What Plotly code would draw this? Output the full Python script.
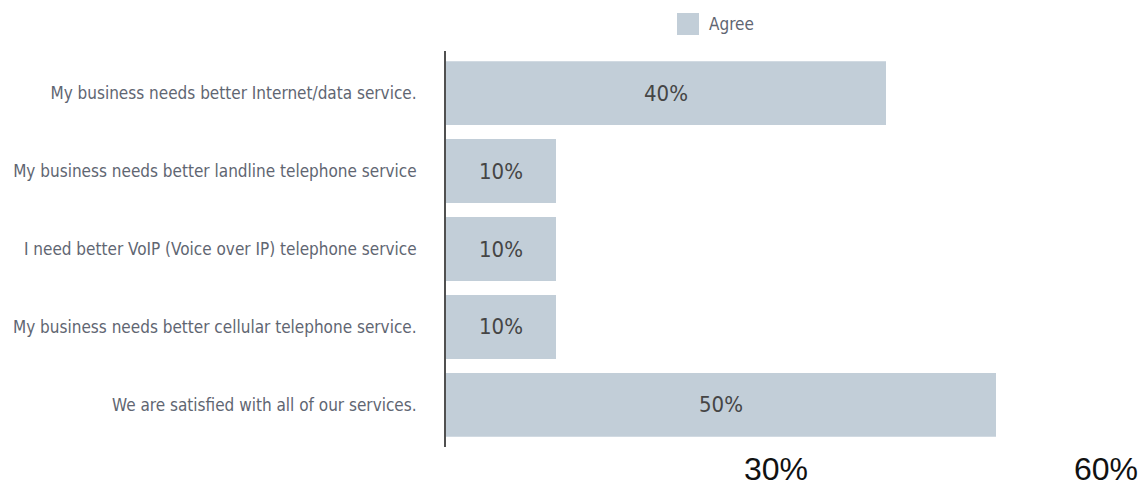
import plotly.graph_objects as go

# Survey responses: share of respondents who agree with each statement
statements = [
    "My business needs better Internet/data service.",
    "My business needs better landline telephone service",
    "I need better VoIP (Voice over IP) telephone service",
    "My business needs better cellular telephone service.",
    "We are satisfied with all of our services.",
]
agree_pct = [40, 10, 10, 10, 50]
series_name = "Agree"
x_tick_values = [30, 60]
x_tick_labels = ["30%", "60%"]

BAR_COLOR = "#c2ced8"
LABEL_COLOR = "#5f6672"
VALUE_COLOR = "#454545"
CONDENSED = "Liberation Sans Narrow, DejaVu Sans Condensed, Roboto, sans-serif"

W, H = 1143, 496
L, R, T, B = 446, 37, 51, 49

fig = go.Figure()
fig.add_trace(
    go.Bar(
        x=agree_pct,
        y=statements,
        orientation="h",
        name=series_name,
        marker=dict(color=BAR_COLOR, line=dict(width=0)),
        text=[f"{v}%" for v in agree_pct],
        textposition="inside",
        insidetextanchor="middle",
        textangle=0,
        textfont=dict(family=CONDENSED, size=22, color=VALUE_COLOR),
        showlegend=False,
        hoverinfo="skip",
    )
)

# Legend key drawn at the top, centred over the bars
plot_w = W - L - R
plot_h = H - T - B
def px_x(px):
    return (px - L) / plot_w
def px_y(py):
    return 1 + (T - py) / plot_h

fig.add_shape(
    type="rect", xref="paper", yref="paper",
    x0=px_x(677), x1=px_x(699), y0=px_y(35), y1=px_y(13),
    fillcolor=BAR_COLOR, line=dict(width=0),
)
fig.add_annotation(
    xref="paper", yref="paper", x=px_x(707), y=px_y(24),
    xanchor="left", yanchor="middle", showarrow=False,
    text=series_name,
    font=dict(family=CONDENSED, size=17, color=LABEL_COLOR),
)

fig.update_layout(
    width=W, height=H,
    margin=dict(l=L, r=R, t=T, b=B, pad=0),
    paper_bgcolor="white", plot_bgcolor="white",
    bargap=0.18,
    uniformtext=dict(mode=False),
    xaxis=dict(
        range=[0, 60],
        automargin=False,
        tickvals=x_tick_values,
        ticktext=x_tick_labels,
        showgrid=False, zeroline=False, showline=False,
        ticks="",
        tickfont=dict(family="Liberation Sans, Arial, sans-serif", size=32, color="#111111"),
    ),
    yaxis=dict(
        categoryorder="array", categoryarray=statements,
        range=[4.54, -0.54],
        automargin=False,
        showgrid=False, zeroline=False,
        showline=True, linecolor="#505050", linewidth=2,
        ticks="outside", ticklen=24, tickcolor="rgba(0,0,0,0)",
        tickfont=dict(family=CONDENSED, size=17, color=LABEL_COLOR),
    ),
)

fig.write_html("out.html")
